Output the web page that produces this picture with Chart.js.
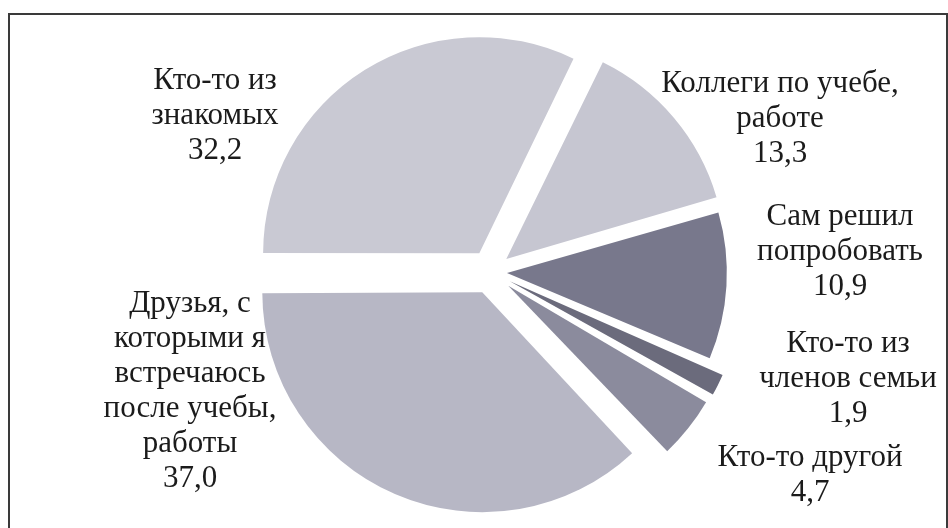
<!DOCTYPE html>
<html lang="ru">
  <head>
    <meta charset="UTF-8" />
    <script src="https://cdn.jsdelivr.net/npm/chart.js"></script>
    <style>
      body {
        margin: 0;
        background: #ffffff;
      }
      #wrap {
        position: relative;
        width: 948px;
        height: 528px;
      }
      #frame {
        position: absolute;
        left: 8px;
        top: 13px;
        width: 936px;
        height: 530px;
        border: 2px solid #3a3a3a;
        pointer-events: none;
      }
    </style>
  </head>
  <body>
    <div id="wrap">
      <canvas id="pieChart"></canvas>
      <div id="frame"></div>
    </div>

    <script>
      // slices go clockwise, starting at 9 o'clock
      const categories = [
        ["Кто-то из", "знакомых"],
        ["Коллеги по учебе,", "работе"],
        ["Сам решил", "попробовать"],
        ["Кто-то из", "членов семьи"],
        ["Кто-то другой"],
        ["Друзья, с", "которыми я", "встречаюсь", "после учебы,", "работы"],
      ];
      const shares = [32.2, 13.3, 10.9, 1.9, 4.7, 37.0];
      const valueLabels = ["32,2", "13,3", "10,9", "1,9", "4,7", "37,0"];

      const sliceColors = ["#c9c9d3", "#c6c6d1", "#78788c", "#6b6b7c", "#8b8b9d", "#b7b7c5"];
      // label block centres, relative to the pie centre
      const labelShift = [
        [-276, -156],
        [289, -153],
        [349, -20],
        [357, 107],
        [319, 203],
        [-301, 119],
      ];

      const pieLabels = {
        id: "pieLabels",
        afterDatasetsDraw(chart) {
          const ctx = chart.ctx;
          const arcs = chart.getDatasetMeta(0).data;
          const lh = 35;
          ctx.save();
          ctx.fillStyle = "#1b1b1b";
          ctx.font = "31px 'Liberation Serif', 'Times New Roman', serif";
          ctx.textAlign = "center";
          ctx.textBaseline = "middle";
          arcs.forEach((arc, i) => {
            const lines = categories[i].concat([valueLabels[i]]);
            const cx = arc.x + labelShift[i][0];
            const cy = arc.y + labelShift[i][1];
            const top = cy - ((lines.length - 1) * lh) / 2;
            lines.forEach((t, k) => ctx.fillText(t, cx, top + k * lh));
          });
          ctx.restore();
        },
      };

      const ctx = document.getElementById("pieChart").getContext("2d");
      new Chart(ctx, {
        type: "pie",
        data: {
          labels: categories.map((c) => c.join(" ")),
          datasets: [
            {
              data: shares,
              backgroundColor: sliceColors,
              borderWidth: 0,
              // chart.js v4 draws offset / 4 -> ~16-22px
              offset: [88, 80, 64, 84, 88, 88],
              hoverOffset: 0,
            },
          ],
        },
        options: {
          responsive: true,
          maintainAspectRatio: false,
          animation: false,
          rotation: -90,
          radius: 214,
          layout: { padding: { left: 34, top: 16, right: 0, bottom: 0 } },
          plugins: {
            legend: { display: false },
            tooltip: { enabled: false },
          },
        },
        plugins: [pieLabels],
      });
    </script>
  </body>
</html>
